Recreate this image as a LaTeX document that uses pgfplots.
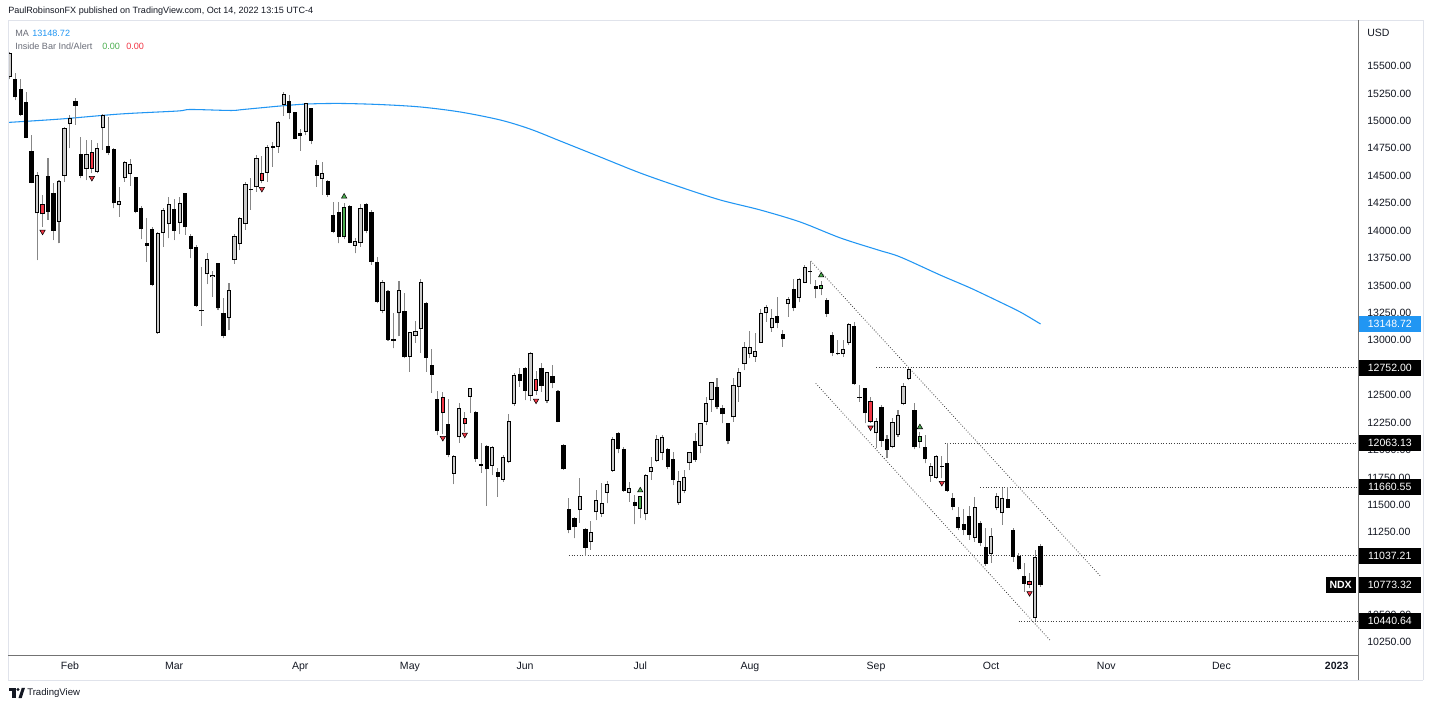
\documentclass[border=0pt]{standalone}
\usepackage{fontspec}
\setmainfont{Liberation Sans}
\usepackage{pgfplots}
\usepackage{pgfplotstable}
\pgfplotsset{compat=1.18}

\definecolor{maBlue}{RGB}{33,150,243}
\definecolor{tvRed}{RGB}{242,54,69}
\definecolor{tvGreen}{RGB}{76,175,80}
\definecolor{upFill}{RGB}{203,203,203}
\definecolor{txt}{RGB}{19,23,34}
\definecolor{wickc}{RGB}{135,135,135}
\definecolor{frame}{RGB}{224,227,235}
\definecolor{legGrey}{RGB}{106,109,120}

\newcommand{\ticfont}{\fontsize{7.9}{9}\selectfont}
\newcommand{\hdrfont}{\fontsize{6.8}{8}\selectfont}

\pgfplotstableread{
i o h l c
1 15382 15434 15190 15215
2 15288 15379 15045 15054
3 15175 15266 14841 14847
4 14728 14871 14431 14437
7 14498 14659 14097 14172
8 14340 14431 13914 13999
12 15181 15206 14963 15139
13 14696 14856 14477 14498
18 14771 15038 14689 14705
19 14741 14750 14203 14249
23 14486 14491 14158 14170
24 14209 14224 13921 14012
25 13890 14112 13717 13863
26 14015 14036 13495 13504
30 14194 14285 13914 13999
32 14340 14345 13960 14030
33 13954 13969 13748 13835
34 13853 13869 13306 13313
35 13276 13665 13131 13264
38 13702 13708 13276 13292
39 13246 13388 13018 13039
44 14382 14477 14188 14370
48 14771 14810 14583 14756
51 15181 15236 15015 15069
52 15078 15084 14832 14835
53 14887 14923 14726 14862
55 15115 15120 14789 14817
56 14598 14644 14400 14498
58 14452 14461 14309 14325
59 14142 14263 13975 13990
60 14172 14263 13884 13944
62 14224 14233 13884 13890
65 14243 14249 13975 13996
66 14172 14188 13687 13717
67 13711 13762 13337 13352
69 13450 13459 12997 13003
70 13009 13246 12927 12997
72 13270 13428 12836 12845
76 13343 13352 12714 12842
77 12775 12921 12523 12684
78 12462 12541 12137 12176
80 12234 12462 11934 11955
85 12349 12356 11894 11915
86 11873 12061 11793 11857
87 12037 12046 11490 11824
89 11800 11839 11575 11757
93 12690 12750 12577 12632
94 12745 12759 12456 12541
97 12745 12796 12532 12586
99 12677 12775 12563 12608
100 12538 12547 12253 12258
101 12046 12052 11818 11824
102 11462 11560 11241 11271
103 11378 11392 11195 11296
105 11280 11286 11037 11110
111 12158 12164 11970 12007
112 12009 12030 11620 11627
114 11529 11590 11323 11490
120 12007 12016 11824 11848
121 11918 11985 11681 11727
125 12082 12152 11894 11909
129 12577 12659 12371 12389
130 12386 12410 12244 12326
131 12244 12249 12052 12082
140 13222 13392 13110 13155
141 13055 13094 12942 13009
143 13465 13556 13267 13292
146 13632 13723 13511 13620
147 13498 13550 13383 13468
149 13367 13383 13215 13240
150 13048 13078 12857 12882
151 12887 13003 12866 12875
154 13131 13170 12593 12599
155 12486 12593 12441 12477
156 12563 12568 12244 12335
159 12389 12410 12030 12085
160 12100 12137 11924 12000
165 12365 12426 12007 12025
167 12025 12137 11879 11915
171 11884 12063 11620 11627
172 11565 11611 11453 11483
173 11392 11483 11271 11286
174 11326 11463 11225 11271
175 11398 11490 11180 11225
177 11332 11353 11125 11155
178 11113 11286 10943 10958
182 11551 11660 11469 11474
183 11271 11286 10982 11028
184 11037 11059 10906 10913
185 10852 10968 10709 10779
188 11125 11143 10754 10773.32
}\downbars

\pgfplotstableread{
i o h l c
0 15397 15630 15380 15616
5 14158 14537 13732 14507
9 14081 14461 13884 14449
10 14500 14942 14446 14932
11 14969 15054 14750 15024
14 14562 14826 14461 14696
16 14531 14796 14522 14750
17 14932 15063 14735 15054
20 14231 14400 14127 14267
21 14477 14634 14446 14623
22 14513 14653 14407 14604
27 13064 13990 13058 13975
28 13975 14203 13853 14188
29 14058 14304 13930 14240
31 14072 14304 13969 14249
36 13602 13793 13513 13738
37 13574 13634 13398 13593
40 13203 13522 13094 13459
41 13732 13969 13700 13954
42 13875 14127 13823 14118
43 14058 14446 14006 14422
45 14395 14689 14355 14659
47 14528 14780 14446 14765
49 14759 15002 14710 14993
50 15145 15266 15045 15242
54 14901 15166 14871 15160
57 14468 14628 14325 14528
63 13860 13930 13793 13908
64 13884 14243 13853 14209
68 13270 13550 13246 13532
71 13246 13543 13039 13459
73 12851 13079 12714 13073
74 13042 13179 12978 13085
75 13103 13559 12887 13534
81 11782 11955 11690 11946
82 12116 12431 12067 12380
84 12486 12568 12340 12563
88 11854 12037 11772 12025
90 11727 11955 11711 11939
91 11894 12328 11879 12267
92 12417 12699 12404 12681
95 12495 12896 12447 12887
98 12450 12714 12426 12709
104 11453 11742 11338 11581
106 11164 11356 11089 11255
107 11432 11636 11362 11544
108 11417 11697 11392 11520
109 11611 11718 11514 11688
110 11812 12121 11802 12100
113 11611 11711 11529 11651
116 11414 11781 11362 11772
117 11797 11934 11727 11848
118 11903 12137 11894 12100
119 11970 12137 11909 12121
122 11514 11812 11499 11718
123 11627 11817 11606 11757
124 11884 11985 11817 11979
126 12037 12249 11970 12244
127 12258 12486 12228 12431
128 12456 12623 12349 12617
132 12298 12659 12258 12593
133 12577 12745 12441 12714
134 12784 12987 12729 12942
135 12875 13085 12836 12936
136 12851 13069 12805 12903
137 12978 13283 12973 13246
138 13246 13322 13170 13301
139 13110 13283 13078 13206
142 13331 13398 13215 13374
144 13383 13565 13346 13559
145 13525 13686 13520 13665
152 12873 13003 12851 12918
153 12973 13160 12957 13146
158 12152 12289 12016 12267
161 12030 12289 12016 12253
162 12137 12365 12121 12319
163 12419 12608 12410 12584
164 12647 12752 12638 12738
168 11766 11879 11711 11854
169 11748 11955 11736 11946
176 11198 11575 11162 11483
179 11050 11286 10973 11219
180 11469 11608 11453 11581
181 11423 11651 11317 11560
187 10466 11089 10440.64 11022
}\upbars

\pgfplotstableread{
i o h l c
6 14243 14325 14036 14149
15 14714 14826 14522 14564
46 14522 14680 14430 14452
79 12486 12532 12145 12335
83 12289 12349 12167 12237
96 12645 12720 12502 12541
157 12447 12486 12250 12258
170 11854 11946 11742 11843
186 10803 10876 10740 10772
}\redbars

\pgfplotstableread{
i o h l c
61 13939 14255 13921 14213
115 11460 11585 11378 11581
148 13465 13545 13413 13504
166 12076 12167 12016 12128
}\greenbars

\pgfplotstableread{
i y
6 13990
15 14480
46 14380
79 12110
83 12140
96 12450
157 12205
170 11700
186 10695
}\redtri

\pgfplotstableread{
i y
61 14310
115 11632
148 13592
166 12208
}\greentri

\pgfplotstableread{
i y
-0.3 14986
9.26 15017
20.2 15063
30.6 15090
33.0 15104
40.3 15095
42.6 15104
49.4 15136
54.3 15154
60.3 15159
67.6 15149
74.9 15127
82.2 15081
89.5 15008
94.9 14926
100.4 14817
107.7 14671
115.0 14525
122.3 14397
129.6 14279
136.9 14188
144.2 14078
151.5 13933
158.4 13823
162.4 13760
169.7 13595
175.2 13477
180.6 13349
184.3 13258
188 13149
}\ma

\pgfplotsset{
  wick/.style={only marks, mark=*, mark size=0pt, mark options={draw=none, fill=none}, forget plot,
    error bars/.cd, y dir=plus, y explicit, error mark=none,
    error bar style={line width=0.8pt, draw=wickc, solid}},
  body/.style={only marks, mark=*, mark size=0pt, mark options={draw=none, fill=none}, forget plot,
    error bars/.cd, y dir=plus, y explicit, error mark=none,
    error bar style={line width=3.15pt, draw=#1, solid}},
  inner/.style={only marks, mark=*, mark size=0pt, mark options={draw=none, fill=none}, forget plot,
    error bars/.cd, y dir=plus, y explicit, error mark=none,
    error bar style={line width=1.65pt, draw=#1, solid}},
  hline/.style={forget plot, line width=0.6pt, color=black!75, dash pattern=on 0.6pt off 1.4pt},
}

\begin{document}
\begin{tikzpicture}
\useasboundingbox (0,0) rectangle (1072.5pt,530.25pt);
\fill[white] (0,0) rectangle (1072.5pt,530.25pt);
\begin{axis}[
  at={(6pt,39pt)}, anchor=south west,
  scale only axis, width=1012.5pt, height=474.75pt,
  xmin=-0.3, xmax=245.9, ymin=10131.7, ymax=15901.5,
  axis line style={draw=none},
  clip mode=individual,
  major tick length=0pt,
  xtick={11,30,53,73,94,115,135,158,179,200,221,242},
  xticklabels={Feb,Mar,Apr,May,Jun,Jul,Aug,Sep,Oct,Nov,Dec,\textbf{2023}},
  ytick={10250,10500,10750,11250,11500,11750,12000,12250,12500,13000,13250,13500,13750,14000,14250,14500,14750,15000,15250,15500},
  yticklabel pos=right,
  scaled y ticks=false,
  /pgf/number format/assume math mode=true,
  yticklabel style={/pgf/number format/fixed, /pgf/number format/fixed zerofill,
     /pgf/number format/precision=2, /pgf/number format/1000 sep={},
     anchor=west, inner sep=0pt, xshift=6.75pt, font=\ticfont, text=txt},
  xticklabel style={anchor=base, inner sep=0pt, yshift=-10.5pt, font=\ticfont, text=txt},
]
% moving average
\addplot[color=maBlue, line width=0.8pt, smooth, forget plot] table[x=i,y=y] {\ma};

% trend lines and levels
\addplot[hline] coordinates {(146.1,13723) (198.9,10852)};
\addplot[hline] coordinates {(147.0,12608) (189.7,10268)};
\addplot[hline] coordinates {(158,12752) (245.9,12752)};
\addplot[hline] coordinates {(170.5,12063.13) (245.9,12063.13)};
\addplot[hline] coordinates {(177,11660.55) (245.9,11660.55)};
\addplot[hline] coordinates {(102,11037.21) (245.9,11037.21)};
\addplot[hline] coordinates {(184,10440.64) (245.9,10440.64)};

% wicks
\addplot[wick] table[x=i, y=l, y error plus expr=\thisrow{h}-\thisrow{l}] {\downbars};
\addplot[wick] table[x=i, y=l, y error plus expr=\thisrow{h}-\thisrow{l}] {\upbars};
\addplot[wick] table[x=i, y=l, y error plus expr=\thisrow{h}-\thisrow{l}] {\redbars};
\addplot[wick] table[x=i, y=l, y error plus expr=\thisrow{h}-\thisrow{l}] {\greenbars};

% bodies
\addplot[body=black] table[x=i, y=c, y error plus expr=\thisrow{o}-\thisrow{c}] {\downbars};
\addplot[body=black] table[x=i, y=o, y error plus expr=\thisrow{c}-\thisrow{o}] {\upbars};
\addplot[inner=upFill] table[x=i, y expr=\thisrow{o}+9, y error plus expr={max(\thisrow{c}-\thisrow{o}-18,0)}] {\upbars};
\addplot[body=black] table[x=i, y=c, y error plus expr=\thisrow{o}-\thisrow{c}] {\redbars};
\addplot[inner=tvRed] table[x=i, y expr=\thisrow{c}+9, y error plus expr={max(\thisrow{o}-\thisrow{c}-18,0)}] {\redbars};
\addplot[body=black] table[x=i, y=o, y error plus expr=\thisrow{c}-\thisrow{o}] {\greenbars};
\addplot[inner=tvGreen] table[x=i, y expr=\thisrow{o}+9, y error plus expr={max(\thisrow{c}-\thisrow{o}-18,0)}] {\greenbars};

% inside-bar markers
\addplot[only marks, forget plot, mark=triangle*, mark size=2.3pt, mark options={rotate=180, fill=tvRed, draw=none}] table[x=i,y=y] {\redtri};
\addplot[only marks, forget plot, mark=triangle*, mark size=2.3pt, mark options={fill=tvGreen, draw=none}] table[x=i,y=y] {\greentri};

% price labels
\tikzset{pbox/.style={anchor=west, minimum width=47.25pt, minimum height=12pt, inner sep=0pt, text=white, font=\ticfont}}
\node[pbox, fill=maBlue] at (axis cs:245.9,13148.72) {13148.72};
\node[pbox, fill=black] at (axis cs:245.9,12752) {12752.00};
\node[pbox, fill=black] at (axis cs:245.9,12063.13) {12063.13};
\node[pbox, fill=black] at (axis cs:245.9,11660.55) {11660.55};
\node[pbox, fill=black] at (axis cs:245.9,11037.21) {11037.21};
\node[pbox, fill=black] at (axis cs:245.9,10773.32) {10773.32};
\node[pbox, fill=black] at (axis cs:245.9,10440.64) {10440.64};
\node[anchor=east, fill=black, text=white, font=\ticfont\bfseries, inner xsep=3pt, inner ysep=0pt, minimum height=12pt, xshift=-1.5pt] at (axis cs:245.9,10773.32) {NDX};
\end{axis}

\begin{scope}[x=0.75pt, y=-0.75pt, yshift=530.25pt]
  % frame
  \draw[frame, line width=0.75pt] (8,20.5) -- (1423,20.5);
  \draw[frame, line width=0.75pt] (8,20.5) -- (8,680);
  \draw[frame, line width=0.75pt] (1423,20.5) -- (1423,680);
  \draw[frame, line width=0.75pt] (8,680) -- (1423,680);
  % axis lines
  \draw[black!55, line width=0.75pt] (1358,20.5) -- (1358,680);
  \draw[black!55, line width=0.75pt] (8,655) -- (1358,655);
  % header
  \node[anchor=west, inner sep=0pt, font=\hdrfont, text=txt] at (8,11) {PaulRobinsonFX published on TradingView.com, Oct 14, 2022 13:15 UTC-4};
  \node[anchor=west, inner sep=0pt, font=\hdrfont, text=legGrey] at (15,33) {MA};
  \node[anchor=west, inner sep=0pt, font=\hdrfont, text=maBlue] at (32,33) {13148.72};
  \node[anchor=west, inner sep=0pt, font=\hdrfont, text=legGrey] at (15,46) {Inside Bar Ind/Alert};
  \node[anchor=west, inner sep=0pt, font=\hdrfont, text=tvGreen] at (102,46) {0.00};
  \node[anchor=west, inner sep=0pt, font=\hdrfont, text=tvRed] at (126,46) {0.00};
  \node[anchor=west, inner sep=0pt, font=\ticfont, text=txt] at (1367,33) {USD};
  % footer logo
  \fill[txt] (9,688) rectangle (15.5,691);
  \fill[txt] (12,691) rectangle (15.5,698);
  \fill[txt] (18,689.5) circle (1.6);
  \fill[txt] (18.5,698) -- (21.8,687.8) -- (25,687.8) -- (21.7,698) -- cycle;
  \node[anchor=west, inner sep=0pt, font=\fontsize{7.2}{9}\selectfont, text=txt] at (27,693) {TradingView};
\end{scope}
\end{tikzpicture}
\end{document}
